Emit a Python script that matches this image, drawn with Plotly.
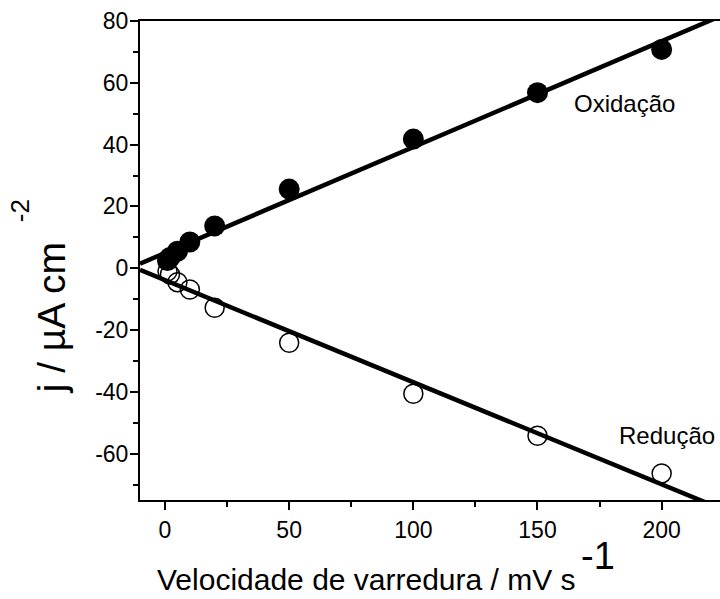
import numpy as np
import plotly.graph_objects as go

# Scan rate (mV/s) and peak current densities (µA/cm²)
scan_rate = [1, 2, 5, 10, 20, 50, 100, 150, 200]
j_oxidation = [2.5, 3.5, 5.5, 8.5, 13.7, 25.6, 41.8, 56.8, 70.8]
j_reduction = [-1.0, -2.0, -4.5, -6.9, -12.8, -24.1, -40.6, -54.2, -66.4]

x_ticks = [0, 50, 100, 150, 200]
y_ticks = [-60, -40, -20, 0, 20, 40, 60, 80]
x_range = [-10.07, 223.5]
y_range = [-75, 80]

FONT = "Liberation Sans, Arial, sans-serif"

# Linear fits over the full visible x range
fit_x = np.array(x_range)
ox_coef = np.polyfit(scan_rate, j_oxidation, 1)
red_coef = np.polyfit(scan_rate, j_reduction, 1)

fig = go.Figure()

fig.add_trace(go.Scatter(
    x=scan_rate, y=j_oxidation, mode="markers",
    marker=dict(symbol="circle", size=21, color="black"),
    showlegend=False, cliponaxis=False))
fig.add_trace(go.Scatter(
    x=scan_rate, y=j_reduction, mode="markers",
    marker=dict(symbol="circle-open", size=19, color="black",
                line=dict(width=1.5, color="black")),
    showlegend=False, cliponaxis=False))

fig.add_trace(go.Scatter(
    x=fit_x, y=np.polyval(ox_coef, fit_x), mode="lines",
    line=dict(color="black", width=4.5), showlegend=False))
fig.add_trace(go.Scatter(
    x=fit_x, y=np.polyval(red_coef, fit_x), mode="lines",
    line=dict(color="black", width=4.5), showlegend=False))

axis_common = dict(
    showgrid=False, zeroline=False,
    showline=True, linecolor="black", linewidth=2,
    ticks="outside", ticklen=8, tickwidth=2, tickcolor="black",
    tickfont=dict(family=FONT, size=23, color="black"),
)

# plain hyphen-minus in tick labels
fig.update_xaxes(
    range=x_range, tickvals=x_ticks, ticktext=[str(v) for v in x_ticks],
    mirror=True,
    minor=dict(ticks="outside", ticklen=5, tickwidth=2, tickcolor="black",
               tick0=25, dtick=50),
    **axis_common)
fig.update_yaxes(
    range=y_range, tickvals=y_ticks, ticktext=[str(v) for v in y_ticks],
    mirror=False, ticklabelstandoff=-3,
    minor=dict(ticks="outside", ticklen=5, tickwidth=2, tickcolor="black",
               tick0=10, dtick=20),
    **axis_common)

annotations = [
    dict(text="Oxidação", x=184.9, y=53.4, xref="x", yref="y",
         font=dict(family=FONT, size=24, color="black")),
    dict(text="Redução", x=202.2, y=-54.0, xref="x", yref="y",
         font=dict(family=FONT, size=24, color="black")),
    # axis titles
    dict(text="j / µA cm", x=-0.152, y=0.381, xref="paper", yref="paper",
         textangle=-90, font=dict(family=FONT, size=39, color="black")),
    dict(text="-2", x=-0.207, y=0.605, xref="paper", yref="paper",
         textangle=-90, font=dict(family=FONT, size=26, color="black")),
    dict(text="Velocidade de varredura / mV s", x=0.391, y=-0.167,
         xref="paper", yref="paper",
         font=dict(family=FONT, size=30, color="black")),
    dict(text="-1", x=0.79, y=-0.117, xref="paper", yref="paper",
         font=dict(family=FONT, size=38, color="black")),
]
for a in annotations:
    a.update(showarrow=False, xanchor="center", yanchor="middle")

fig.update_layout(
    width=720, height=599,
    margin=dict(l=140, r=0, t=21, b=99),
    paper_bgcolor="white", plot_bgcolor="white",
    annotations=annotations,
)

fig.write_html("out.html")
